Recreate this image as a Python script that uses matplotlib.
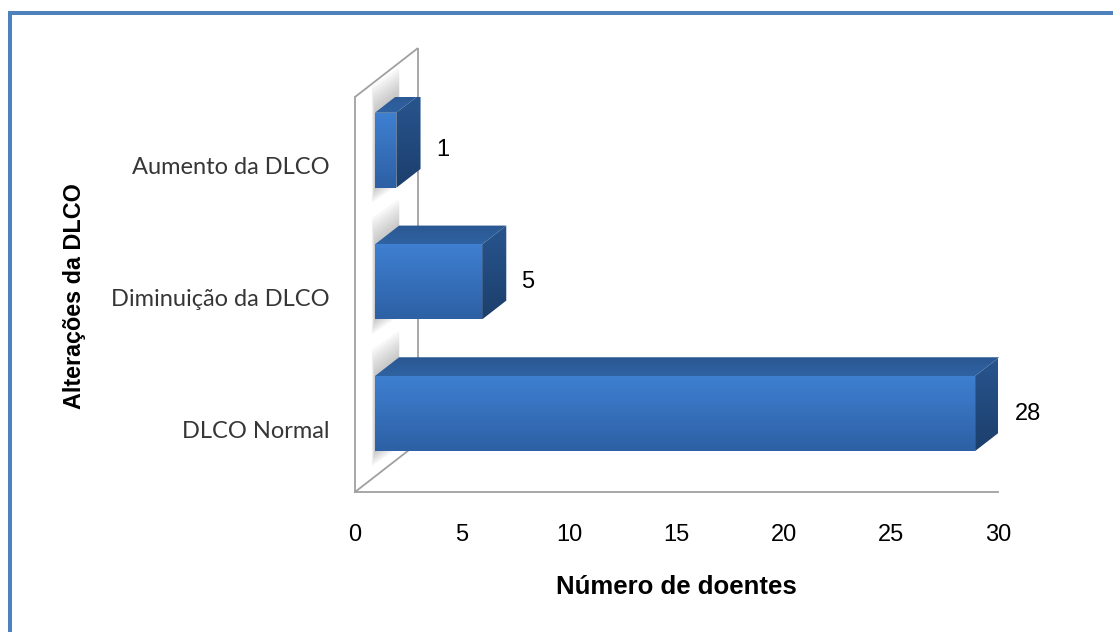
import matplotlib.pyplot as plt
import numpy as np
from matplotlib.patches import Polygon
from matplotlib.colors import LinearSegmentedColormap
from matplotlib.lines import Line2D

# dados
categorias = ['DLCO Normal', 'Diminuição da DLCO', 'Aumento da DLCO']
doentes = [28, 5, 1]
ticks_x = [0, 5, 10, 15, 20, 25, 30]

# perspectiva "3D" (em unidades de dados)
DX = 2.94      # profundidade na horizontal
DY = 0.372     # profundidade na vertical
F0, F1 = 0.317, 0.70   # frente e fundo das barras dentro da profundidade
ALTURA = 0.57
posicoes = np.arange(len(categorias)) - 0.022

cor_parede = '#A0A0A0'
fonte_num = 'Liberation Sans'
fonte_cat = 'Lato'

fig = plt.figure(figsize=(11.13, 6.32), dpi=100)
ax = fig.add_axes([355 / 1113, 140 / 632, 643 / 1113, 395 / 632])


def preenche(verts, c_cima, c_baixo, z, alpha=1.0):
    """Preenche um polígono com gradiente vertical."""
    poly = Polygon(verts, closed=True, facecolor='none', edgecolor='none',
                   zorder=z, clip_on=False)
    ax.add_patch(poly)
    xs, ys = zip(*verts)
    cmap = LinearSegmentedColormap.from_list('g', [c_baixo, c_cima])
    grad = np.linspace(0, 1, 256).reshape(-1, 1)
    im = ax.imshow(grad, extent=[min(xs), max(xs), min(ys), max(ys)],
                   origin='lower', cmap=cmap, aspect='auto', zorder=z,
                   interpolation='bilinear', alpha=alpha)
    im.set_clip_box(None)
    im.set_clip_path(poly)


# parede lateral
y_min, y_max = -0.5, 2.5
for xs, ys in [([0, DX], [y_max, y_max + DY]),
               ([DX, DX], [y_max + DY, y_min + DY]),
               ([0, DX], [y_min, y_min + DY])]:
    ax.plot(xs, ys, color=cor_parede, lw=1.3, zorder=1, clip_on=False,
            solid_capstyle='butt')

ddx = (F1 - F0) * DX
ddy = (F1 - F0) * DY

for p, v in zip(posicoes, doentes):
    x0 = F0 * DX
    x1 = v + F0 * DX
    y0 = p - ALTURA / 2 + F0 * DY
    y1 = p + ALTURA / 2 + F0 * DY

    # sombra difusa na parede
    for k in range(8):
        e = 0.018 * (k + 1)
        sombra = [(x0 - e, y0 - e * 0.8), (x0 + ddx, y0 + ddy - e * 0.8),
                  (x0 + ddx, y1 + ddy + e * 1.4), (x0 - e, y1 + e * 1.4)]
        ax.add_patch(Polygon(sombra, closed=True, facecolor='#777777',
                             edgecolor='none', alpha=0.055, zorder=2,
                             clip_on=False))

    frente = [(x0, y0), (x1, y0), (x1, y1), (x0, y1)]
    topo = [(x0, y1), (x1, y1), (x1 + ddx, y1 + ddy), (x0 + ddx, y1 + ddy)]
    lado = [(x1, y0), (x1 + ddx, y0 + ddy), (x1 + ddx, y1 + ddy), (x1, y1)]

    preenche(topo, '#2A5792', '#3063A2', 3)
    preenche(lado, '#28558F', '#1C3F6C', 3)
    preenche(frente, '#3F80D2', '#2D60A4', 4)

    ax.annotate(str(v), xy=(x1 + ddx, p + F0 * DY), xytext=(11, 0),
                textcoords='offset points', ha='left', va='center',
                fontsize=17, family=fonte_num, color='black',
                annotation_clip=False, zorder=6)

ax.set_xlim(0, 30)
ax.set_ylim(y_min, y_max)

for lado_ax in ['top', 'right']:
    ax.spines[lado_ax].set_visible(False)
for lado_ax in ['left', 'bottom']:
    ax.spines[lado_ax].set_color(cor_parede)
    ax.spines[lado_ax].set_linewidth(1.3)
    ax.spines[lado_ax].set_zorder(1)
ax.patch.set_alpha(0)

ax.set_xticks(ticks_x)
ax.set_xticklabels([str(t) for t in ticks_x], fontsize=17, family=fonte_num)
ax.set_yticks(posicoes)
ax.set_yticklabels(categorias, fontsize=17, family=fonte_cat, color='#363636')
ax.tick_params(axis='x', length=0, pad=23)
ax.tick_params(axis='y', length=0, pad=18)

# títulos dos eixos
fig.text(676 / 1113, 1 - 587 / 632, 'Número de doentes', ha='center',
         va='center', fontsize=18.5, fontweight='bold', family=fonte_num)
fig.text(75 / 1113, 1 - 296 / 632, 'Alterações da DLCO', ha='center',
         va='center', rotation=90, fontsize=16.8, fontweight='bold',
         family=fonte_num)

# moldura azul
azul = '#4F81BD'
fig.add_artist(Line2D([10 / 1113, 10 / 1113], [1 - 11 / 632, 0],
                      color=azul, lw=2.9, solid_capstyle='butt'))
fig.add_artist(Line2D([8 / 1113, 1], [1 - 13 / 632, 1 - 13 / 632],
                      color=azul, lw=2.9, solid_capstyle='butt'))

fig.savefig('out.png', dpi=100, facecolor='white')
